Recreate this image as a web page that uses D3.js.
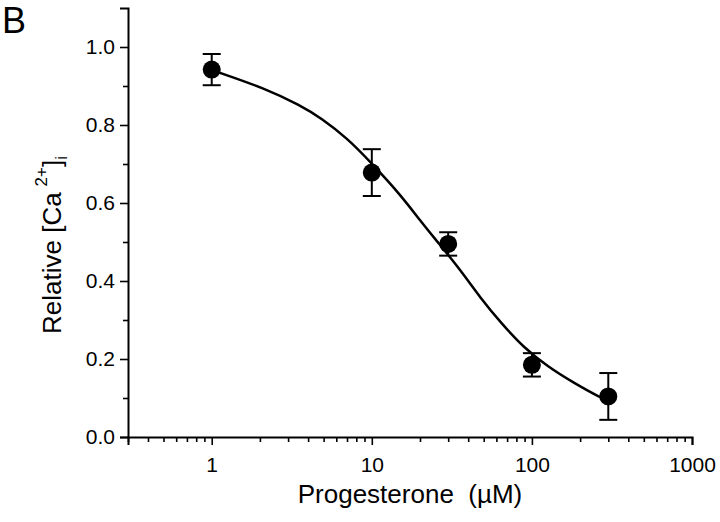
<!DOCTYPE html>
<html>
<head>
<meta charset="utf-8">
<script src="https://cdn.jsdelivr.net/npm/d3@7"></script>
<style>
  body { margin: 0; background: #fff; }
  text { font-family: "Liberation Sans", Arial, sans-serif; fill: #000; }
</style>
</head>
<body>
<script>
// data
const concentrations = [1, 10, 30, 100, 300];          // progesterone, uM
const relativeCa = [0.942, 0.678, 0.495, 0.185, 0.104];
const errors = [0.040, 0.060, 0.030, 0.030, 0.060];

// fitted curve
const curveX = [1, 1.14, 2.11, 3.6, 4.8, 7.08, 9.86, 15.2, 20.2, 25.9, 36, 48, 64, 89, 126, 182, 270, 300];
const curveY = [0.941, 0.933, 0.895, 0.850, 0.818, 0.765, 0.704, 0.620, 0.553, 0.499, 0.427, 0.355, 0.293, 0.229, 0.180, 0.139, 0.100, 0.094];

const xMajor = [1, 10, 100, 1000];
const xMajorLabels = ["1", "10", "100", "1000"];
const yMajor = [0, 0.2, 0.4, 0.6, 0.8, 1.0];
const yMinor = [0.1, 0.3, 0.5, 0.7, 0.9];

const outerWidth = 720, outerHeight = 522;
const margin = {top: 8, right: 28, bottom: 85, left: 128};
const width = outerWidth - margin.left - margin.right;
const height = outerHeight - margin.top - margin.bottom;

// minor log ticks: 2..9 of each decade
let xMinor = [];
[0.1, 1, 10, 100].forEach(dec => {
    for (let k = 2; k <= 9; k++) {
        let v = dec * k;
        if (v > 0.3 && v < 1000) xMinor.push(v);
    }
});

const xScale = d3.scaleLog().domain([0.3, 1000]).range([0, width]);
const yScale = d3.scaleLinear().domain([0, 1.1]).range([height, 0]);

const svg = d3.select("body").append("svg")
    .attr("width", outerWidth)
    .attr("height", outerHeight);

svg.append("text")
    .attr("x", 2).attr("y", 33)
    .style("font-size", "36px")
    .text("B");

const g = svg.append("g")
    .attr("transform", `translate(${margin.left},${margin.top})`);

// x axis
const xAxisMajor = d3.axisBottom(xScale)
    .tickValues(xMajor)
    .tickFormat((d, i) => xMajorLabels[i])
    .tickSize(8).tickPadding(12);
const xAxisMinor = d3.axisBottom(xScale)
    .tickValues(xMinor).tickFormat("").tickSize(5);

const gx = g.append("g").attr("transform", `translate(0,${height})`).call(xAxisMajor);
const gx2 = g.append("g").attr("transform", `translate(0,${height})`).call(xAxisMinor);
gx2.select(".domain").remove();

// y axis
const yAxisMajor = d3.axisLeft(yScale)
    .tickValues(yMajor)
    .tickFormat(d3.format(".1f"))
    .tickSize(8).tickPadding(5);
const yAxisMinor = d3.axisLeft(yScale)
    .tickValues(yMinor).tickFormat("").tickSize(5);

const gy = g.append("g").call(yAxisMajor);
const gy2 = g.append("g").call(yAxisMinor);
gy2.select(".domain").remove();

g.selectAll(".domain").attr("stroke", "#000").attr("stroke-width", 2);
g.selectAll(".tick line").attr("stroke", "#000").attr("stroke-width", 1.6);
g.selectAll(".tick text").style("font-size", "21px").attr("fill", "#000");

// axis labels
svg.append("text")
    .attr("x", margin.left + width / 2)
    .attr("y", 503)
    .attr("text-anchor", "middle")
    .style("font-size", "26px")
    .style("white-space", "pre")
    .text("Progesterone  (\u00b5M)");

const ylab = svg.append("text")
    .attr("transform", "translate(61,334) rotate(-90)")
    .style("font-size", "26px");
ylab.append("tspan").text("Relative [Ca");
ylab.append("tspan").attr("dx", 6).attr("dy", -14).style("font-size", "17px").text("2+");
ylab.append("tspan").attr("dy", 14).text("]");
ylab.append("tspan").attr("dy", 6).style("font-size", "17px").text("i");

// fitted curve
const curveData = curveX.map((x, i) => ({x: x, y: curveY[i]}));
const line = d3.line()
    .x(d => xScale(d.x))
    .y(d => yScale(d.y))
    .curve(d3.curveBasis);

g.append("path")
    .datum(curveData)
    .attr("fill", "none")
    .attr("stroke", "#000")
    .attr("stroke-width", 2.5)
    .attr("d", line);

// error bars
const pts = concentrations.map((c, i) => ({x: c, y: relativeCa[i], e: errors[i]}));
const capHalf = 9;

const bars = g.selectAll(".err").data(pts).enter().append("g").attr("class", "err");
bars.append("line")
    .attr("x1", d => xScale(d.x)).attr("x2", d => xScale(d.x))
    .attr("y1", d => yScale(d.y + d.e)).attr("y2", d => yScale(d.y - d.e))
    .attr("stroke", "#000").attr("stroke-width", 2);
bars.append("line")
    .attr("x1", d => xScale(d.x) - capHalf).attr("x2", d => xScale(d.x) + capHalf)
    .attr("y1", d => yScale(d.y + d.e)).attr("y2", d => yScale(d.y + d.e))
    .attr("stroke", "#000").attr("stroke-width", 2);
bars.append("line")
    .attr("x1", d => xScale(d.x) - capHalf).attr("x2", d => xScale(d.x) + capHalf)
    .attr("y1", d => yScale(d.y - d.e)).attr("y2", d => yScale(d.y - d.e))
    .attr("stroke", "#000").attr("stroke-width", 2);

// points
g.selectAll(".pt").data(pts).enter().append("circle")
    .attr("class", "pt")
    .attr("cx", d => xScale(d.x))
    .attr("cy", d => yScale(d.y))
    .attr("r", 9)
    .attr("fill", "#000");
</script>
</body>
</html>
